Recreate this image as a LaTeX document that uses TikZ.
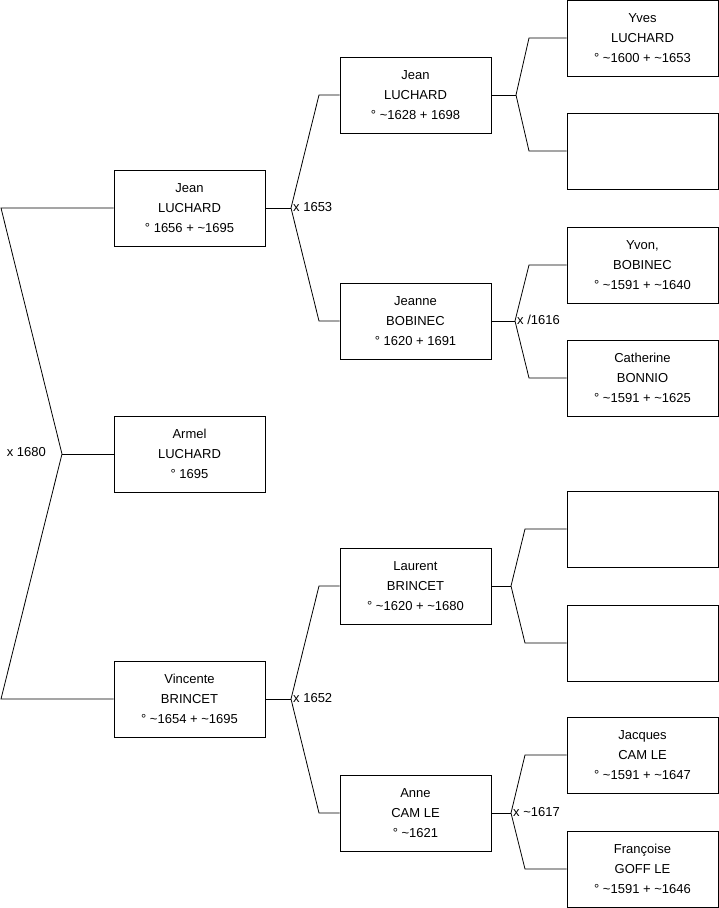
\documentclass[tikz,border=0pt]{standalone}
\usepackage{fontspec}
\setmainfont{Liberation Sans}
\begin{document}
\begin{tikzpicture}[x=1pt,y=-1pt,
  person/.style={draw=black, line width=0.9pt, fill=white, minimum width=151pt, minimum height=76pt,
    inner sep=0pt, align=center, font=\fontsize{13}{20}\selectfont},
  link/.style={draw=black, line width=0.8pt},
  lbl/.style={font=\fontsize{13}{15}\selectfont, inner sep=1pt}]
\useasboundingbox (0,0) rectangle (719,908);
% level 1
\node[person] (p1) at (189.5,208) {Jean\\LUCHARD\\° 1656 + \textasciitilde1695};
\node[person] (p0) at (189.5,454) {Armel\\LUCHARD\\° 1695};
\node[person] (p2) at (189.5,699) {Vincente\\BRINCET\\° \textasciitilde1654 + \textasciitilde1695};
% level 2
\node[person] (p11) at (415.5,95) {Jean\\LUCHARD\\° \textasciitilde1628 + 1698};
\node[person] (p12) at (415.5,321) {Jeanne\\BOBINEC\\° 1620 + 1691};
\node[person] (p21) at (415.5,586) {Laurent\\BRINCET\\° \textasciitilde1620 + \textasciitilde1680};
\node[person] (p22) at (415.5,813) {Anne\\CAM LE\\° \textasciitilde1621};
% level 3
\node[person] (p111) at (642.5,38) {Yves\\LUCHARD\\° \textasciitilde1600 + \textasciitilde1653};
\node[person] (p112) at (642.5,151) {};
\node[person] (p121) at (642.5,265) {Yvon,\\BOBINEC\\° \textasciitilde1591 + \textasciitilde1640};
\node[person] (p122) at (642.5,378) {Catherine\\BONNIO\\° \textasciitilde1591 + \textasciitilde1625};
\node[person] (p211) at (642.5,529) {};
\node[person] (p212) at (642.5,643) {};
\node[person] (p221) at (642.5,755) {Jacques\\CAM LE\\° \textasciitilde1591 + \textasciitilde1647};
\node[person] (p222) at (642.5,869) {Françoise\\GOFF LE\\° \textasciitilde1591 + \textasciitilde1646};
% junctions and kinks
\coordinate (j0) at (62,454);
\coordinate (k01) at (1,208);
\coordinate (k02) at (1,699);
\coordinate (j1) at (291,208);
\coordinate (k11) at (319,95);
\coordinate (k12) at (319,321);
\coordinate (j2) at (291,699);
\coordinate (k21) at (319,586);
\coordinate (k22) at (319,813);
\coordinate (j11) at (516,95);
\coordinate (k111) at (529,38);
\coordinate (k112) at (529,151);
\coordinate (j12) at (515,321);
\coordinate (k121) at (529,265);
\coordinate (k122) at (529,378);
\coordinate (j21) at (511,586);
\coordinate (k211) at (525,529);
\coordinate (k212) at (525,643);
\coordinate (j22) at (511,813);
\coordinate (k221) at (525,755);
\coordinate (k222) at (525,869);
% connectors
\draw[link] (p0.west) -- (j0);
\draw[link] (p1.west) -- (k01) -- (j0) -- (k02) -- (p2.west);
\draw[link] (p1.east) -- (j1);
\draw[link] (p11.west) -- (k11) -- (j1) -- (k12) -- (p12.west);
\draw[link] (p2.east) -- (j2);
\draw[link] (p21.west) -- (k21) -- (j2) -- (k22) -- (p22.west);
\draw[link] (p11.east) -- (j11);
\draw[link] (p111.west) -- (k111) -- (j11) -- (k112) -- (p112.west);
\draw[link] (p12.east) -- (j12);
\draw[link] (p121.west) -- (k121) -- (j12) -- (k122) -- (p122.west);
\draw[link] (p21.east) -- (j21);
\draw[link] (p211.west) -- (k211) -- (j21) -- (k212) -- (p212.west);
\draw[link] (p22.east) -- (j22);
\draw[link] (p221.west) -- (k221) -- (j22) -- (k222) -- (p222.west);
% labels
\node[lbl, anchor=east] (l0) at (47,452) {x 1680};
\node[lbl, anchor=west] (l1) at (292,207) {x 1653};
\node[lbl, anchor=west] (l2) at (292,698) {x 1652};
\node[lbl, anchor=west] (l12) at (516,320) {x /1616};
\node[lbl, anchor=west] (l22) at (512,812) {x \textasciitilde1617};
\end{tikzpicture}
\end{document}
